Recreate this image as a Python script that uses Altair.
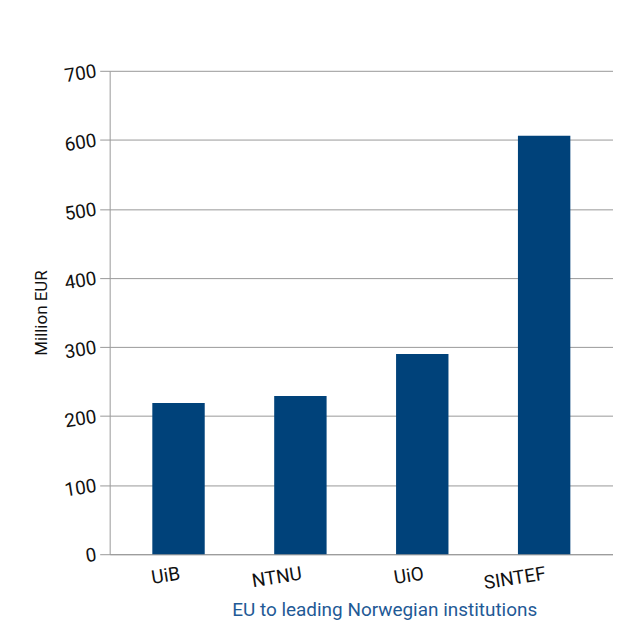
import altair as alt
import pandas as pd

institutions = ["UiB", "NTNU", "UiO", "SINTEF"]
funding = [219, 229, 290, 606]
y_ticks = [0, 100, 200, 300, 400, 500, 600, 700]
y_title = "Million EUR"
caption = "EU to leading Norwegian institutions"

df = pd.DataFrame({"inst": institutions, "value": funding})

FONT = "Roboto"

bars = alt.Chart(df).mark_bar(color="#00427A").encode(
    x=alt.X("inst:N", sort=institutions,
            scale=alt.Scale(paddingInner=0.57, paddingOuter=0.35),
            axis=alt.Axis(title=None, labelAngle=-9, labelFontSize=19,
                          labelFont=FONT, labelColor="#111", ticks=False,
                          domain=True, domainColor="#999", labelPadding=10)),
    y=alt.Y("value:Q", scale=alt.Scale(domain=[0, 700], nice=False),
            axis=alt.Axis(values=y_ticks, title=y_title, titleFont=FONT,
                          titleFontSize=17, titleFontWeight="normal",
                          titleColor="#111", titlePadding=12,
                          labelFont=FONT, labelFontSize=19, labelColor="#111",
                          labelAngle=-9, tickSize=10, tickColor="#999",
                          domainColor="#999", gridColor="#999", grid=True,
                          labelPadding=4)),
)

chart = bars.properties(
    width=505, height=485,
    autosize=alt.AutoSizeParams(type="none"),
    padding={"left": 102, "top": 62, "right": 0, "bottom": 65},
    title=alt.TitleParams(caption, orient="bottom", anchor="start", dx=200,
                          offset=8, font=FONT, fontSize=19,
                          fontWeight="normal", color="#1F5A96"),
).configure_view(stroke=None)

chart.save("out.html", embed_options={"renderer": "svg", "actions": False})
